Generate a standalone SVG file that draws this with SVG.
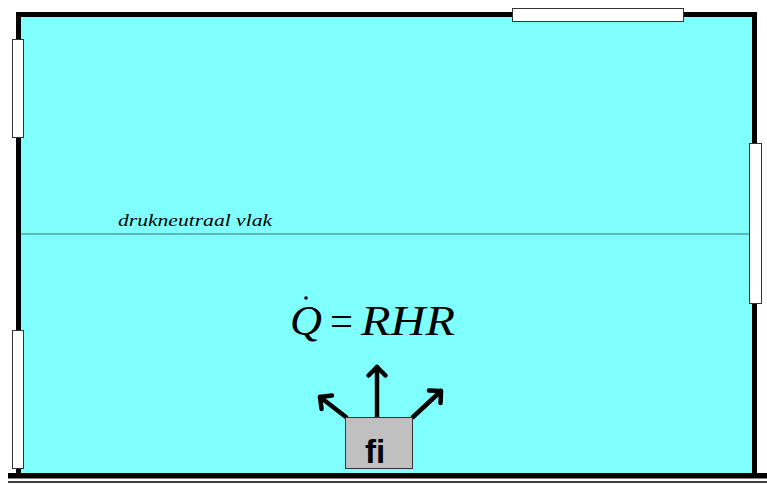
<svg xmlns="http://www.w3.org/2000/svg" width="767" height="484" viewBox="0 0 767 484">
<defs>
<style>
.win{fill:#fff;stroke:#333;stroke-width:1}
.arr{stroke:#000;stroke-width:4.5;fill:none;stroke-linecap:round;stroke-linejoin:round}
.eq{font-family:"Liberation Serif",serif;font-size:42px;fill:#000}
</style>
<marker id="ah" markerWidth="6" markerHeight="6" refX="3" refY="3" orient="auto" markerUnits="userSpaceOnUse" overflow="visible">
<path d="M-8.5,-8.5 L0,0 L-8.5,8.5" transform="translate(3,3)" stroke="#000" stroke-width="4.5" fill="none" stroke-linecap="round" stroke-linejoin="round"/>
</marker>
</defs>
<rect width="767" height="484" fill="#fff"/>
<g id="room">
<rect x="18.5" y="14.5" width="736" height="461" fill="#80FFFF" stroke="#000" stroke-width="5"/>
<rect x="8" y="473" width="759" height="5.5" fill="#000"/>
<line x1="8" y1="482" x2="767" y2="482" stroke="#000" stroke-width="1.5"/>
</g>
<g id="windows">
<rect class="win" x="12.5" y="39.5" width="11" height="98"/>
<rect class="win" x="12.5" y="330.5" width="11" height="138"/>
<rect class="win" x="512.5" y="8.5" width="171" height="13"/>
<rect class="win" x="749.5" y="143.5" width="12" height="160"/>
</g>
<g id="plane">
<line x1="21" y1="234" x2="749" y2="234" stroke="#407070" stroke-width="1.2"/>
<text x="118" y="226" font-family="Liberation Serif, serif" font-style="italic" font-size="16" textLength="154" lengthAdjust="spacingAndGlyphs" fill="#000">drukneutraal vlak</text>
</g>
<g id="equation">
<text class="eq" x="290" y="335" font-style="italic" textLength="32" lengthAdjust="spacingAndGlyphs">Q</text>
<text class="eq" x="330" y="335" textLength="23" lengthAdjust="spacingAndGlyphs">=</text>
<text class="eq" x="361" y="335" font-style="italic" textLength="94" lengthAdjust="spacingAndGlyphs">RHR</text>
<circle cx="306" cy="298" r="1.8" fill="#000"/>
</g>
<g id="connectors">
<line class="arr" x1="377" y1="417" x2="377" y2="367" marker-end="url(#ah)"/>
<line class="arr" x1="346" y1="417" x2="320" y2="397" marker-end="url(#ah)"/>
<line class="arr" x1="413" y1="417" x2="441" y2="391" marker-end="url(#ah)"/>
</g>
<g id="fire">
<rect x="345.5" y="417.5" width="67" height="51" fill="#C0C0C0" stroke="#333" stroke-width="1"/>
<text x="375" y="463" text-anchor="middle" font-family="Liberation Sans, Arial, sans-serif" font-weight="bold" font-size="33" fill="#000">fi</text>
</g>
</svg>
